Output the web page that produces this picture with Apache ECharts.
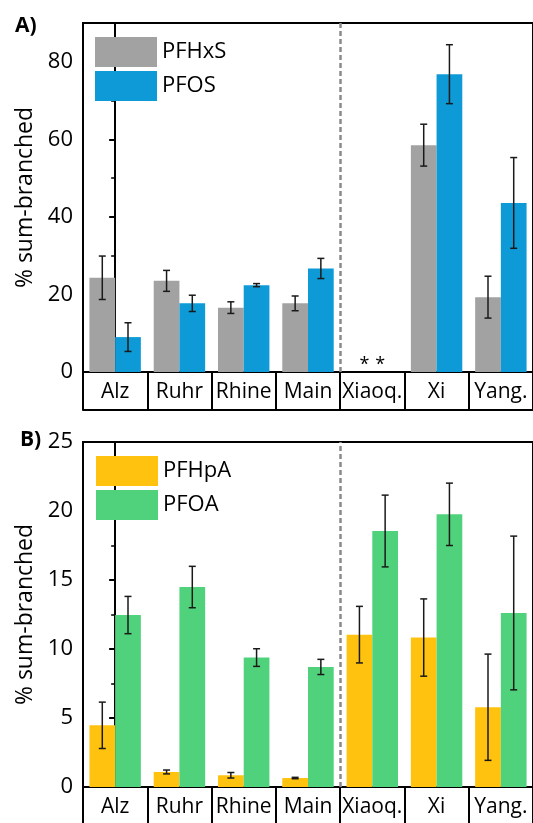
<!DOCTYPE html>
<html>
<head>
<meta charset="utf-8">
<title>% sum-branched</title>
<script src="https://cdn.jsdelivr.net/npm/echarts@6/dist/echarts.min.js"></script>
<style>
    html, body { margin: 0; padding: 0; background: #fff; }
    #main { width: 533px; height: 823px; }
</style>
</head>
<body>
<div id="main"></div>
<script>
var categories = ['Alz', 'Ruhr', 'Rhine', 'Main', 'Xiaoq.', 'Xi', 'Yang.'];

// panel A
var pfhxs = [24.3, 23.5, 16.6, 17.7, null, 58.5, 19.3];
var pfhxsErr = [5.6, 2.7, 1.5, 1.9, null, 5.4, 5.4];
var pfos = [9.0, 17.7, 22.4, 26.7, null, 76.8, 43.6];
var pfosErr = [3.7, 2.1, 0.4, 2.6, null, 7.6, 11.7];

// panel B
var pfhpa = [4.47, 1.09, 0.85, 0.65, 11.04, 10.83, 5.78];
var pfhpaErr = [1.68, 0.14, 0.2, 0.05, 2.05, 2.8, 3.85];
var pfoa = [12.46, 14.49, 9.38, 8.7, 18.55, 19.76, 12.61];
var pfoaErr = [1.35, 1.5, 0.64, 0.55, 2.6, 2.26, 5.57];

var ticksA = [0, 20, 40, 60, 80];
var ticksB = [0, 5, 10, 15, 20, 25];

// German rivers | Chinese rivers (boundary between index 3 and 4)
var splitAt = 3.5;

var FONT = '"Open Sans", "DejaVu Sans", sans-serif';
var black = '#000';

// bars with no value get a "*" sitting on the axis
function barData(vals, dx) {
    return vals.map(function (v) {
        if (v === null) {
            return {value: 0, label: {show: true, formatter: '*', position: 'top', distance: -2,
                offset: [dx, 0], color: '#000', fontSize: 18, fontFamily: FONT}};
        }
        return v;
    });
}

function errData(vals, errs) {
    var out = [];
    for (var i = 0; i < vals.length; i++) {
        if (vals[i] === null) continue;
        out.push([i, vals[i] - errs[i], vals[i] + errs[i]]);
    }
    return out;
}

// error bar drawn at the centre of the left (-1) or right (+1) bar of a group
function errRenderer(side) {
    return function (params, api) {
        var lo = api.coord([api.value(0), api.value(1)]);
        var hi = api.coord([api.value(0), api.value(2)]);
        var band = api.size([1, 0])[0];
        var x = lo[0] + side * band * 0.2;
        var cap = 3.5;
        var style = {stroke: '#1a1a1a', lineWidth: 1.5};
        return {
            type: 'group',
            children: [
                {type: 'line', shape: {x1: x, y1: lo[1], x2: x, y2: hi[1]}, style: style},
                {type: 'line', shape: {x1: x - cap, y1: lo[1], x2: x + cap, y2: lo[1]}, style: style},
                {type: 'line', shape: {x1: x - cap, y1: hi[1], x2: x + cap, y2: hi[1]}, style: style}
            ]
        };
    };
}

// dashed divider lives on a hidden value axis that spans the same range as the categories
function dividerSeries(xi, yi) {
    return {
        type: 'line', xAxisIndex: xi, yAxisIndex: yi, data: [], silent: true,
        markLine: {
            silent: true, symbol: 'none', label: {show: false},
            lineStyle: {color: '#8a8a8a', width: 2.5, type: [5, 3]},
            data: [{xAxis: splitAt}]
        }
    };
}

function catAxis(gi) {
    return {
        type: 'category', gridIndex: gi, data: categories,
        axisLine: {lineStyle: {color: black, width: 2}},
        axisTick: {show: true, interval: 0, length: 38, lineStyle: {color: black, width: 2}},
        axisLabel: {interval: 0, margin: 10, fontSize: 21, color: black, fontFamily: FONT},
        splitLine: {show: false}
    };
}

// bottom line of the label box under the axis
function boxAxis(gi) {
    return {
        type: 'category', gridIndex: gi, data: categories, position: 'bottom', offset: 38,
        axisLine: {lineStyle: {color: black, width: 2}},
        axisTick: {show: false}, axisLabel: {show: false}, splitLine: {show: false}
    };
}

function hiddenAxis(gi) {
    return {type: 'value', gridIndex: gi, min: -0.5, max: categories.length - 0.5, show: false};
}

function valAxis(gi, ticks, max) {
    return {
        type: 'value', gridIndex: gi, min: ticks[0], max: max, interval: ticks[1] - ticks[0],
        name: '% sum-branched', nameLocation: 'middle', nameGap: 40,
        nameTextStyle: {fontSize: 23, color: black, fontFamily: FONT},
        axisLine: {show: true, lineStyle: {color: black, width: 2}},
        axisTick: {show: true, length: 6, lineStyle: {color: black, width: 2}},
        minorTick: {show: true, splitNumber: 2, length: 4, lineStyle: {color: black, width: 1.5}},
        splitLine: {show: false},
        axisLabel: {margin: 10, fontSize: 22, color: black, fontFamily: FONT, showMaxLabel: max === ticks[ticks.length - 1]}
    };
}

var myChart = echarts.init(document.getElementById('main'));

var option = {
    animation: false,
    backgroundColor: '#fff',
    title: [
        {text: 'A)', left: 10, top: 11, textStyle: {fontSize: 21, fontWeight: 'bold', color: black, fontFamily: FONT}},
        {text: 'B)', left: 15, top: 425, textStyle: {fontSize: 21, fontWeight: 'bold', color: black, fontFamily: FONT}}
    ],
    grid: [
        {left: 83, right: -3, top: 23, height: 349, show: true, borderColor: black, borderWidth: 2, backgroundColor: 'transparent'},
        {left: 83, right: -3, top: 442, height: 345, show: true, borderColor: black, borderWidth: 2, backgroundColor: 'transparent'}
    ],
    legend: [
        {
            data: ['PFHxS', 'PFOS'], orient: 'vertical', left: 90, top: 32,
            itemWidth: 62, itemHeight: 30, itemGap: 4, icon: 'rect',
            textStyle: {fontSize: 22, color: black, fontFamily: FONT}
        },
        {
            data: ['PFHpA', 'PFOA'], orient: 'vertical', left: 91, top: 451,
            itemWidth: 62, itemHeight: 30, itemGap: 4, icon: 'rect',
            textStyle: {fontSize: 22, color: black, fontFamily: FONT}
        }
    ],
    xAxis: [catAxis(0), boxAxis(0), catAxis(1), boxAxis(1), hiddenAxis(0), hiddenAxis(1)],
    yAxis: [valAxis(0, ticksA, 90), valAxis(1, ticksB, 25)],
    series: [
        dividerSeries(4, 0),
        dividerSeries(5, 1),
        {name: 'PFHxS', type: 'bar', xAxisIndex: 0, yAxisIndex: 0, data: barData(pfhxs, 5),
            barCategoryGap: '20%', barGap: '0%', itemStyle: {color: '#a2a2a2'}},
        {name: 'PFOS', type: 'bar', xAxisIndex: 0, yAxisIndex: 0, data: barData(pfos, -5),
            barCategoryGap: '20%', barGap: '0%', itemStyle: {color: '#0e9ad6'}},
        {name: 'PFHpA', type: 'bar', xAxisIndex: 2, yAxisIndex: 1, data: barData(pfhpa, 0),
            barCategoryGap: '20%', barGap: '0%', itemStyle: {color: '#ffc20e'}},
        {name: 'PFOA', type: 'bar', xAxisIndex: 2, yAxisIndex: 1, data: barData(pfoa, 0),
            barCategoryGap: '20%', barGap: '0%', itemStyle: {color: '#50d27c'}},
        {type: 'custom', xAxisIndex: 0, yAxisIndex: 0, renderItem: errRenderer(-1), data: errData(pfhxs, pfhxsErr), z: 5},
        {type: 'custom', xAxisIndex: 0, yAxisIndex: 0, renderItem: errRenderer(1), data: errData(pfos, pfosErr), z: 5},
        {type: 'custom', xAxisIndex: 2, yAxisIndex: 1, renderItem: errRenderer(-1), data: errData(pfhpa, pfhpaErr), z: 5},
        {type: 'custom', xAxisIndex: 2, yAxisIndex: 1, renderItem: errRenderer(1), data: errData(pfoa, pfoaErr), z: 5}
    ]
};

myChart.setOption(option);
</script>
</body>
</html>
